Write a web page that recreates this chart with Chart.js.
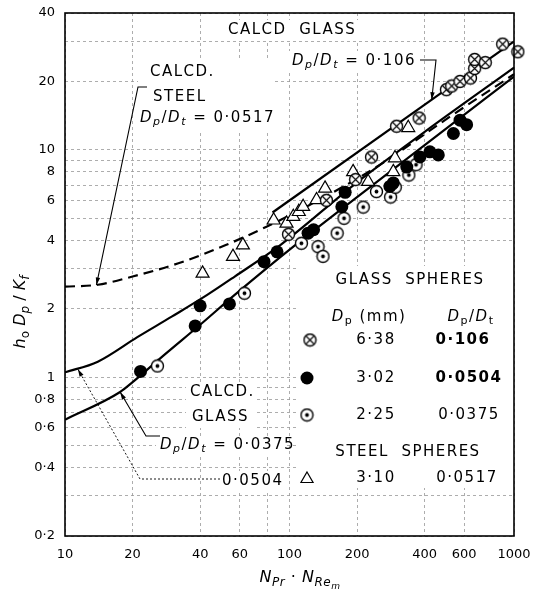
<!DOCTYPE html>
<html>
<head>
<meta charset="utf-8">
<script src="https://cdn.jsdelivr.net/npm/chart.js@4/dist/chart.umd.min.js"></script>
<style>
  html, body { margin: 0; padding: 0; background: #fff; }
</style>
</head>
<body>
<canvas id="chart" width="533" height="599"></canvas>
<script>
// axis ticks
const xTicks = [10, 20, 40, 60, 80, 100, 200, 400, 600, 1000];
const xLabels = [10, 20, 40, 60, 100, 200, 400, 600, 1000];
const yTicks = [0.2, 0.3, 0.4, 0.5, 0.6, 0.7, 0.8, 0.9, 1, 2, 3, 4, 5, 6, 7, 8, 9, 10, 20, 30, 40];
const yLabels = [0.2, 0.4, 0.6, 0.8, 1, 2, 4, 6, 8, 10, 20, 40];

// glass spheres 6.38 mm (Dp/Dt = 0.106)
const crossX = [99, 146, 197, 232, 300, 378, 500, 528, 575, 640, 668, 668, 745, 890, 1040];
const crossY = [4.25, 6.0, 7.4, 9.3, 12.7, 13.8, 18.4, 19.1, 20.0, 20.7, 22.8, 25.0, 24.2, 29.2, 27.0];
// glass spheres 3.02 mm (Dp/Dt = 0.0504)
const filledX = [21.7, 38, 40, 54, 77, 88, 121, 128, 171, 177, 280, 290, 333, 381, 422, 460, 537, 575, 615];
const filledY = [1.06, 1.68, 2.06, 2.1, 3.22, 3.56, 4.3, 4.45, 5.62, 6.5, 6.9, 7.15, 8.4, 9.3, 9.8, 9.5, 11.8, 13.5, 12.9];
// glass spheres 2.25 mm (Dp/Dt = 0.0375)
const dottedX = [25.8, 63, 113, 134, 141, 163, 175, 213, 244, 282, 296, 340, 366];
const dottedY = [1.12, 2.34, 3.88, 3.75, 3.4, 4.3, 5.0, 5.6, 6.55, 6.2, 6.85, 7.75, 8.6];
// steel spheres 3.10 mm (Dp/Dt = 0.0517)
const steelX = [41, 56, 62, 85, 97, 104, 110, 115, 132, 144, 192, 224, 290, 295, 338];
const steelY = [2.86, 3.39, 3.81, 4.9, 4.75, 5.08, 5.34, 5.62, 6.02, 6.77, 8.0, 7.24, 8.0, 9.2, 12.5];

// calculated curves
const calc106X = [84, 1000];
const calc106Y = [5.3, 30];
const calc0517X = [10, 14, 20, 32, 52, 79, 120, 244, 519, 1000];
const calc0517Y = [2.5, 2.55, 2.77, 3.17, 3.81, 4.59, 5.65, 8.4, 14.0, 21.5];
const calc0504X = [10, 14, 21, 30, 43, 57, 91, 200, 400, 1000];
const calc0504Y = [1.05, 1.17, 1.5, 1.85, 2.3, 2.77, 3.81, 7.2, 12.0, 23.0];
const calc0375X = [10, 17.6, 20, 27.6, 40, 57, 104, 200, 400, 1000];
const calc0375Y = [0.65, 0.86, 0.95, 1.25, 1.7, 2.3, 3.75, 6.2, 10.5, 21.0];

const FONT = '"DejaVu Sans"';
const pts = (xs, ys) => xs.map((x, i) => ({ x: x, y: ys[i] }));
const fmt = v => String(v).replace('.', '\u00b7');

function makeMarker(kind) {
  const c = document.createElement('canvas');
  c.width = 15; c.height = 15;
  const g = c.getContext('2d');
  g.fillStyle = '#fff'; g.strokeStyle = '#000'; g.lineWidth = 1.4;
  g.beginPath(); g.arc(7.5, 7.5, 6, 0, Math.PI * 2); g.fill(); g.stroke();
  if (kind === 'cross') {
    const d = 6 / Math.SQRT2;
    g.lineWidth = 1.1;
    g.beginPath();
    g.moveTo(7.5 - d, 7.5 - d); g.lineTo(7.5 + d, 7.5 + d);
    g.moveTo(7.5 + d, 7.5 - d); g.lineTo(7.5 - d, 7.5 + d);
    g.stroke();
  } else {
    g.fillStyle = '#000';
    g.beginPath(); g.arc(7.5, 7.5, 1.9, 0, Math.PI * 2); g.fill();
  }
  return c;
}
const crossImg = makeMarker('cross');
const dotImg = makeMarker('dot');

// text with italics and subscripts: parts = [[text, style]], style: i italic, s sub, u sub-sub, b bold
function rich(ctx, parts, x, y, size, align) {
  const fontFor = st => (st.includes('i') ? 'italic ' : '') + (st.includes('b') ? 'bold ' : '') +
    (st.includes('u') ? Math.round(size * 0.55) : st.includes('s') ? Math.round(size * 0.72) : size) + 'px ' + FONT;
  ctx.save();
  ctx.textAlign = 'left';
  let w = 0;
  parts.forEach(([t, st = '']) => { ctx.font = fontFor(st); w += ctx.measureText(t).width; });
  let cx = align === 'center' ? x - w / 2 : align === 'right' ? x - w : x;
  parts.forEach(([t, st = '']) => {
    ctx.font = fontFor(st);
    const dy = st.includes('u') ? size * 0.55 : st.includes('s') ? size * 0.3 : 0;
    ctx.fillText(t, cx, y + dy);
    cx += ctx.measureText(t).width;
  });
  ctx.restore();
  return w;
}

function leader(ctx, path, dotted) {
  ctx.save();
  ctx.strokeStyle = '#000';
  ctx.lineWidth = dotted ? 0.9 : 1.1;
  if (dotted) ctx.setLineDash([2, 2]);
  ctx.beginPath();
  ctx.moveTo(path[0][0], path[0][1]);
  for (let i = 1; i < path.length; i++) ctx.lineTo(path[i][0], path[i][1]);
  ctx.stroke();
  const [ax, ay] = path[path.length - 1];
  const [bx, by] = path[path.length - 2];
  const a = Math.atan2(ay - by, ax - bx);
  ctx.setLineDash([]);
  ctx.fillStyle = '#000';
  ctx.beginPath();
  ctx.moveTo(ax, ay);
  ctx.lineTo(ax - 8 * Math.cos(a - 0.28), ay - 8 * Math.sin(a - 0.28));
  ctx.lineTo(ax - 8 * Math.cos(a + 0.28), ay - 8 * Math.sin(a + 0.28));
  ctx.closePath();
  ctx.fill();
  ctx.restore();
}

const DpDt = v => [['D', 'i'], ['p', 'is'], ['/', ''], ['D', 'i'], ['t', 'is'], [' = ' + v, '']];

const paper = {
  id: 'paper',
  beforeDatasetsDraw(chart) {
    const ctx = chart.ctx;
    ctx.save();
    ctx.fillStyle = '#fff';
    ctx.fillRect(226, 20, 138, 20);
    ctx.fillRect(288, 51, 132, 20);
    ctx.fillRect(138, 60, 136, 70);
    ctx.fillRect(186, 382, 68, 46);
    ctx.fillRect(156, 436, 130, 20);
    ctx.fillRect(218, 471, 68, 20);
    ctx.fillRect(298, 266, 214, 222);
    ctx.restore();
  },
  afterDatasetsDraw(chart) {
    const ctx = chart.ctx;
    const xs = chart.scales.x, ys = chart.scales.y;
    const ca = chart.chartArea;
    const px = (x, y) => [xs.getPixelForValue(x), ys.getPixelForValue(y)];
    ctx.save();
    // frame
    ctx.strokeStyle = '#000';
    ctx.lineWidth = 1.6;
    ctx.strokeRect(ca.left, ca.top, ca.right - ca.left, ca.bottom - ca.top);

    ctx.fillStyle = '#000';
    ctx.textBaseline = 'middle';
    ctx.letterSpacing = '1.5px';

    // annotations
    ctx.font = '15px ' + FONT;
    ctx.fillText('CALCD  GLASS', 228, 30);
    rich(ctx, DpDt('0\u00b7106'), 292, 61, 15, 'left');
    leader(ctx, [[420, 60], [436, 60], px(430, 16.6)]);

    ctx.font = '15px ' + FONT;
    ctx.fillText('CALCD.', 150, 72);
    ctx.fillText('STEEL', 153, 97);
    rich(ctx, DpDt('0\u00b70517'), 140, 118, 15, 'left');
    leader(ctx, [[147, 87], [138, 87], px(13.8, 2.54)]);

    ctx.font = '15px ' + FONT;
    ctx.fillText('CALCD.', 190, 392);
    ctx.fillText('GLASS', 192, 417);
    rich(ctx, DpDt('0\u00b70375'), 160, 445, 15, 'left');
    leader(ctx, [[160, 436], [146, 436], px(17.6, 0.86)]);
    ctx.font = '15px ' + FONT;
    ctx.fillText('0\u00b70504', 222, 481);
    leader(ctx, [[220, 479], [140, 479], px(11.4, 1.085)], true);

    // legend table
    ctx.textAlign = 'center';
    ctx.font = '15px ' + FONT;
    ctx.fillText('GLASS  SPHERES', 410, 280);
    rich(ctx, [['D', 'i'], ['p', 's'], [' (mm)', '']], 369, 317, 15, 'center');
    rich(ctx, [['D', 'i'], ['p', 's'], ['/', ''], ['D', 'i'], ['t', 's']], 471, 317, 15, 'center');
    ctx.font = '15px ' + FONT;
    ctx.fillText('6\u00b738', 376, 340);
    ctx.fillText('3\u00b702', 376, 378);
    ctx.fillText('2\u00b725', 376, 415);
    ctx.fillText('STEEL  SPHERES', 408, 452);
    ctx.fillText('3\u00b710', 376, 478);
    ctx.fillText('0\u00b70375', 469, 415);
    ctx.fillText('0\u00b70517', 467, 478);
    ctx.font = 'bold 15px ' + FONT;
    ctx.fillText('0\u00b7106', 463, 340);
    ctx.fillText('0\u00b70504', 469, 378);
    ctx.textAlign = 'left';

    const H = Chart.helpers;
    H.drawPoint(ctx, { pointStyle: crossImg, radius: 7, rotation: 0, borderWidth: 0 }, 310, 340);
    ctx.fillStyle = '#000';
    H.drawPoint(ctx, { pointStyle: 'circle', radius: 6.5, rotation: 0, borderWidth: 0 }, 307, 378);
    H.drawPoint(ctx, { pointStyle: dotImg, radius: 7, rotation: 0, borderWidth: 0 }, 307, 415);
    ctx.fillStyle = '#fff';
    ctx.strokeStyle = '#000';
    ctx.lineWidth = 1.2;
    H.drawPoint(ctx, { pointStyle: 'triangle', radius: 7, rotation: 0, borderWidth: 1.2 }, 307, 479);

    // axis titles
    ctx.fillStyle = '#000';
    ctx.letterSpacing = '0.5px';
    rich(ctx, [['N', 'i'], ['Pr', 'is'], [' \u00b7 ', ''], ['N', 'i'], ['Re', 'is'], ['m', 'iu']], 300, 578, 16, 'center');
    ctx.letterSpacing = '0px';
    ctx.translate(21, 312);
    ctx.rotate(-Math.PI / 2);
    rich(ctx, [['h', 'i'], ['o', 's'], [' D', 'i'], ['p', 'is'], [' / ', ''], ['K', 'i'], ['f', 'is']], 0, 0, 16, 'center');
    ctx.restore();
  }
};

const pointSet = (data, extra) => Object.assign({
  data: data, showLine: false, borderColor: '#000', pointBorderColor: '#000'
}, extra);
const curveSet = (data, dash) => ({
  data: data, showLine: true, pointRadius: 0, borderColor: '#000', borderWidth: 2.2,
  borderDash: dash || [], cubicInterpolationMode: 'monotone', fill: false
});

new Chart(document.getElementById('chart'), {
  type: 'scatter',
  data: {
    datasets: [
      pointSet(pts(crossX, crossY), { pointStyle: crossImg, pointRadius: 7, clip: false }),
      pointSet(pts(filledX, filledY), { pointStyle: 'circle', pointRadius: 6.5, pointBackgroundColor: '#000', pointBorderWidth: 0 }),
      pointSet(pts(dottedX, dottedY), { pointStyle: dotImg, pointRadius: 7 }),
      pointSet(pts(steelX, steelY), { pointStyle: 'triangle', pointRadius: 7.5, pointBackgroundColor: '#fff', pointBorderWidth: 1.2 }),
      curveSet(pts(calc106X, calc106Y)),
      curveSet(pts(calc0517X, calc0517Y), [10, 6]),
      curveSet(pts(calc0504X, calc0504Y)),
      curveSet(pts(calc0375X, calc0375Y))
    ]
  },
  options: {
    responsive: false,
    animation: false,
    devicePixelRatio: 1,
    layout: { padding: { left: 0, right: 19, top: 13, bottom: 0 } },
    plugins: { legend: { display: false }, tooltip: { enabled: false } },
    elements: { point: { hoverRadius: 7 } },
    scales: {
      x: {
        type: 'logarithmic', min: 10, max: 1000,
        afterBuildTicks: axis => { axis.ticks = xTicks.map(v => ({ value: v })); },
        afterFit: axis => { axis.height = 63; axis.paddingLeft = 0; axis.paddingRight = 0; },
        ticks: {
          autoSkip: false, maxRotation: 0, padding: 11, color: '#000',
          font: { family: 'DejaVu Sans', size: 13 },
          callback: v => xLabels.includes(v) ? fmt(v) : ''
        },
        grid: { color: '#999', lineWidth: 0.8, drawTicks: false },
        border: { display: false, dash: [3, 3] }
      },
      y: {
        type: 'logarithmic', min: 0.2, max: 40,
        afterBuildTicks: axis => { axis.ticks = yTicks.map(v => ({ value: v })); },
        afterFit: axis => { axis.width = 65; axis.paddingTop = 0; axis.paddingBottom = 0; },
        ticks: {
          autoSkip: false, padding: 10, color: '#000',
          font: { family: 'DejaVu Sans', size: 13 },
          callback: v => yLabels.includes(v) ? fmt(v) : ''
        },
        grid: { color: '#999', lineWidth: 0.8, drawTicks: false },
        border: { display: false, dash: [3, 3] }
      }
    }
  },
  plugins: [paper]
});
</script>
</body>
</html>
